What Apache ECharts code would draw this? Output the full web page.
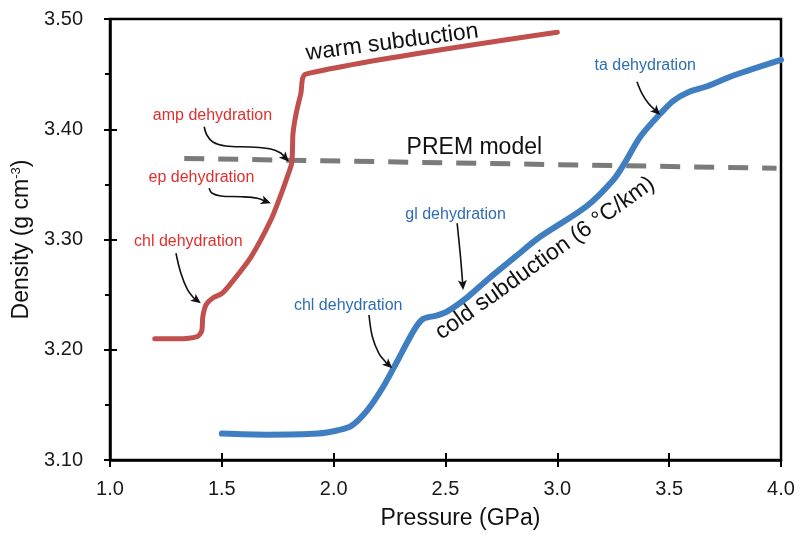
<!DOCTYPE html>
<html><head><meta charset="utf-8">
<script src="https://cdn.jsdelivr.net/npm/echarts@6/dist/echarts.min.js"></script>
<style>html,body{margin:0;padding:0;background:#fff}#c{width:798px;height:535px}</style>
</head><body><div id="c"></div>
<script>
// ---- data (Pressure GPa, Density g/cm3) ----
const warmSubduction = [[1.20,3.210],[1.30,3.210],[1.39,3.212],[1.41,3.217],[1.415,3.230],[1.43,3.241],[1.46,3.247],[1.50,3.251],[1.54,3.260],[1.63,3.284],[1.72,3.318],[1.763,3.340],[1.793,3.357],[1.812,3.369],[1.816,3.382],[1.818,3.396],[1.832,3.414],[1.853,3.432],[1.875,3.450],[3.00,3.488]];
const coldSubduction = [[1.50,3.124],[1.70,3.123],[1.93,3.124],[2.02,3.127],[2.08,3.131],[2.15,3.145],[2.22,3.166],[2.28,3.188],[2.36,3.218],[2.40,3.228],[2.46,3.231],[2.51,3.235],[2.60,3.248],[2.69,3.264],[2.81,3.284],[2.92,3.302],[3.13,3.330],[3.25,3.354],[3.30,3.369],[3.37,3.393],[3.46,3.414],[3.52,3.426],[3.59,3.434],[3.67,3.439],[3.79,3.449],[4.00,3.463]];
const premModel = [[1.332,3.3735],[3.98,3.3646]];

// annotation texts (data coordinates)
const noteTexts = ['amp dehydration','ep dehydration','chl dehydration','chl dehydration','gl dehydration','ta dehydration'];
const notePos = [[1.458,3.412],[1.409,3.356],[1.350,3.298],[2.065,3.240],[2.545,3.323],[3.393,3.458]];
const noteColors = ['#e0302e','#e0302e','#e0302e','#2f6db3','#2f6db3','#2f6db3'];

const curveTexts = ['warm subduction','PREM model','cold subduction (6 \u00B0C/km)'];
const curveTextPos = [[2.261,3.4787],[2.629,3.3834],[2.945,3.283]];
const curveTextRot = [7.5,0,35.6];

// arrow paths (data coordinates), last point = arrow tip
const arrowAmp = [[1.421,3.4023],[1.433,3.3948],[1.460,3.3884],[1.518,3.3848],[1.629,3.3839],[1.719,3.3821],[1.763,3.3785],[1.800,3.3706]];
const arrowEp = [[1.443,3.3464],[1.455,3.3422],[1.496,3.3395],[1.585,3.3388],[1.659,3.3374],[1.719,3.3328]];
const arrowChlWarm = [[1.295,3.2875],[1.317,3.2693],[1.347,3.2542],[1.375,3.2469],[1.406,3.2421]];
const arrowChlCold = [[2.158,3.2315],[2.173,3.2118],[2.202,3.1968],[2.232,3.1889],[2.262,3.1832]];
const arrowGl = [[2.552,3.3147],[2.567,3.2844],[2.579,3.2542]];
const arrowTa = [[3.356,3.4431],[3.378,3.4326],[3.406,3.4238],[3.460,3.4129]];
const arrows = [arrowAmp, arrowEp, arrowChlWarm, arrowChlCold, arrowGl, arrowTa];

const FONT = '"Liberation Sans", Arial, Helvetica, sans-serif';
const chart = echarts.init(document.getElementById('c'), null, {renderer:'canvas'});

const axisCommonX = {type:'value', min:1, max:4, interval:0.5, position:'bottom'};
const axisCommonY = {type:'value', min:3.1, max:3.5, interval:0.1, position:'left'};

chart.setOption({
  animation:false,
  backgroundColor:'#fff',
  grid:{left:110, right:17, top:19, bottom:75, show:true, borderColor:'#000', borderWidth:2.5, containLabel:false},
  xAxis:[
    Object.assign({}, axisCommonX, {
      name:'Pressure (GPa)', nameLocation:'middle', nameGap:47,
      nameTextStyle:{fontFamily:FONT, fontSize:23, color:'#111', padding:[0,0,0,30]},
      axisLine:{show:true, lineStyle:{color:'#000', width:2.5}},
      axisTick:{show:true, inside:false, length:7, lineStyle:{color:'#000', width:2}},
      axisLabel:{fontFamily:FONT, fontSize:20, color:'#1a1a1a', margin:19, formatter:v=>v.toFixed(1)},
      splitLine:{show:false}
    }),
    Object.assign({}, axisCommonX, {
      axisLine:{show:false}, axisLabel:{show:false}, splitLine:{show:false},
      axisTick:{show:true, inside:true, length:7, lineStyle:{color:'#000', width:2}}
    })
  ],
  yAxis:[
    Object.assign({}, axisCommonY, {
      name:'Density (g cm{sup|-3})', nameLocation:'middle', nameGap:76, nameRotate:90,
      nameTextStyle:{fontFamily:FONT, fontSize:23, color:'#111',
        rich:{sup:{fontFamily:FONT, fontSize:13, color:'#111', verticalAlign:'top', padding:[0,0,0,0]}}},
      axisLine:{show:true, lineStyle:{color:'#000', width:2.5}},
      axisTick:{show:true, inside:false, length:6, lineStyle:{color:'#000', width:2}},
      minorTick:{show:true, splitNumber:2, length:5, lineStyle:{color:'#000', width:2}},
      axisLabel:{fontFamily:FONT, fontSize:20, color:'#1a1a1a', margin:27, formatter:v=>v.toFixed(2)},
      splitLine:{show:false}, minorSplitLine:{show:false}
    }),
    Object.assign({}, axisCommonY, {
      axisLine:{show:false}, axisLabel:{show:false}, splitLine:{show:false},
      axisTick:{show:true, inside:true, length:7, lineStyle:{color:'#000', width:2}}
    })
  ],
  series:[
    {type:'line', name:'PREM model', data:premModel, showSymbol:false, symbol:'none', z:2,
      lineStyle:{color:'#7b7b7b', width:5, type:[20,14], cap:'butt'}},
    {type:'line', name:'warm subduction', data:warmSubduction, symbol:'none', smooth:0.25, z:3,
      lineStyle:{color:'#c0504d', width:5, cap:'round', join:'round'}},
    {type:'line', name:'cold subduction', data:coldSubduction, symbol:'none', smooth:0.3, z:3,
      lineStyle:{color:'#3f7fc1', width:6, cap:'round', join:'round'}},
    {type:'custom', name:'arrows', z:5, clip:false,
      data: arrows.map(a => a[0]),
      renderItem:(params, api) => {
        const pts = arrows[params.dataIndex].map(p => api.coord(p));
        const tip = pts[pts.length-1], prev = pts[pts.length-2];
        const dx = tip[0]-prev[0], dy = tip[1]-prev[1];
        const len = Math.sqrt(dx*dx+dy*dy) || 1;
        const ux = dx/len, uy = dy/len;
        const hl = 10, hw = 4.5;
        const base = [tip[0]-ux*hl, tip[1]-uy*hl];
        const body = pts.slice(0, -1).concat([[tip[0]-ux*hl*0.6, tip[1]-uy*hl*0.6]]);
        return {type:'group', children:[
          {type:'polyline', shape:{points:body, smooth:0.35}, style:{stroke:'#111', lineWidth:1.6, fill:null}},
          {type:'polygon', shape:{points:[tip,[base[0]-uy*hw, base[1]+ux*hw],[base[0]+ux*2.5, base[1]+uy*2.5],[base[0]+uy*hw, base[1]-ux*hw]]},
            style:{fill:'#111'}}
        ]};
      }},
    {type:'custom', name:'notes', z:6, clip:false,
      data: notePos,
      renderItem:(params, api) => {
        const i = params.dataIndex; const p = api.coord(notePos[i]);
        return {type:'text', x:p[0], y:p[1], style:{text:noteTexts[i], fill:noteColors[i], font:'16px '+FONT, align:'center', verticalAlign:'middle'}};
      }},
    {type:'custom', name:'curve labels', z:6, clip:false,
      data: curveTextPos,
      renderItem:(params, api) => {
        const i = params.dataIndex; const p = api.coord(curveTextPos[i]);
        return {type:'text', x:p[0], y:p[1], rotation:curveTextRot[i]*Math.PI/180,
          style:{text:curveTexts[i], fill:'#111', font:'23px '+FONT, align:'center', verticalAlign:'middle'}};
      }}
  ]
});
</script>
</body></html>
